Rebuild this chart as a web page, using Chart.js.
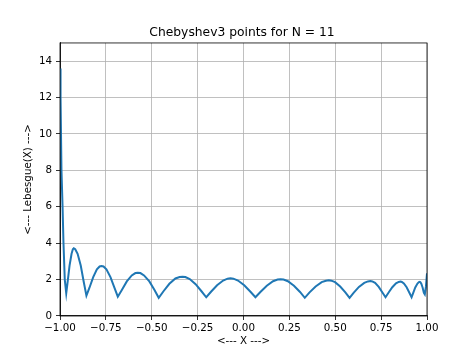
<!DOCTYPE html>
<html>
<head>
<meta charset="utf-8">
<script src="https://cdn.jsdelivr.net/npm/chart.js@4/dist/chart.umd.min.js"></script>
<style>
  html, body { margin: 0; padding: 0; background: #fff; }
  #wrap { width: 474px; height: 355px; }
</style>
</head>
<body>
<div id="wrap"><canvas id="c" width="474" height="355"></canvas></div>
<script>
const chartTitle = 'Chebyshev3 points for N = 11';
const xLabel = '<--- X --->';
const yLabel = '<--- Lebesgue(X) --->';

const xValues = [
  -1.000, -0.997, -0.992, -0.986, -0.981, -0.974, -0.966,
  -0.958, -0.948, -0.937, -0.930, -0.925, -0.917, -0.904, -0.887, -0.870, -0.856,
  -0.840, -0.819, -0.799, -0.784, -0.774, -0.763, -0.747, -0.725, -0.703, -0.685,
  -0.663, -0.636, -0.609, -0.589, -0.576, -0.562, -0.542, -0.513, -0.485, -0.462,
  -0.436, -0.404, -0.371, -0.348, -0.332, -0.317, -0.293, -0.261, -0.229, -0.203,
  -0.177, -0.144, -0.111, -0.087, -0.071, -0.055, -0.030, 0.004, 0.038, 0.065,
  0.092, 0.127, 0.161, 0.186, 0.202, 0.218, 0.242, 0.275, 0.308, 0.334,
  0.360, 0.393, 0.426, 0.449, 0.465, 0.479, 0.499, 0.527, 0.555, 0.578,
  0.601, 0.629, 0.658, 0.678, 0.692, 0.702, 0.717, 0.737, 0.758, 0.774,
  0.790, 0.811, 0.831, 0.846, 0.856, 0.863, 0.874, 0.889, 0.904, 0.916,
  0.925, 0.936, 0.948, 0.956, 0.961, 0.964, 0.969, 0.976, 0.983, 0.988,
  0.994, 1.000
];
const lebesgueValues = [
  13.6, 12.0, 8.0, 6.0, 4.0, 2.0, 1.25,
  1.90, 2.77, 3.42, 3.67, 3.72, 3.67, 3.42, 2.77, 1.84, 1.12,
  1.54, 2.14, 2.56, 2.72, 2.75, 2.72, 2.56, 2.14, 1.54, 1.06,
  1.43, 1.90, 2.23, 2.36, 2.38, 2.36, 2.23, 1.90, 1.43, 1.00,
  1.36, 1.77, 2.06, 2.14, 2.16, 2.14, 2.03, 1.75, 1.36, 1.03,
  1.33, 1.69, 1.95, 2.05, 2.07, 2.05, 1.95, 1.69, 1.33, 1.03,
  1.32, 1.66, 1.91, 2.00, 2.02, 2.00, 1.91, 1.66, 1.32, 1.00,
  1.30, 1.62, 1.86, 1.94, 1.96, 1.94, 1.86, 1.62, 1.30, 1.00,
  1.28, 1.60, 1.82, 1.90, 1.92, 1.90, 1.82, 1.60, 1.28, 1.03,
  1.28, 1.58, 1.79, 1.87, 1.89, 1.87, 1.79, 1.58, 1.28, 1.03,
  1.27, 1.57, 1.78, 1.86, 1.88, 1.86, 1.78, 1.57, 1.27, 1.19,
  1.60, 2.35
];
const xTicks = [-1.00, -0.75, -0.50, -0.25, 0.00, 0.25, 0.50, 0.75, 1.00];
const yTicks = [0, 2, 4, 6, 8, 10, 12, 14];

const FONT = 'DejaVu Sans';

const framePlugin = {
  id: 'frame',
  afterDraw(chart) {
    const a = chart.chartArea, ctx = chart.ctx;
    ctx.save();
    ctx.strokeStyle = '#000';
    ctx.lineWidth = 0.8;
    ctx.strokeRect(a.left, a.top, a.right - a.left, a.bottom - a.top);
    ctx.restore();
  }
};

new Chart(document.getElementById('c'), {
  type: 'scatter',
  data: {
    datasets: [{
      data: xValues.map((x, i) => ({ x: x, y: lebesgueValues[i] })),
      showLine: true,
      borderColor: '#1f77b4',
      backgroundColor: '#1f77b4',
      borderWidth: 2,
      pointRadius: 0,
      tension: 0
    }]
  },
  options: {
    responsive: false,
    devicePixelRatio: 1,
    animation: false,
    layout: { padding: { left: 10, right: 0, top: 0, bottom: 0 } },
    plugins: {
      legend: { display: false },
      tooltip: { enabled: false },
      title: {
        display: true,
        text: chartTitle,
        color: '#000',
        font: { family: FONT, size: 12.3, weight: 'normal' },
        padding: { top: 25.2, bottom: 3.0 }
      }
    },
    scales: {
      x: {
        type: 'linear',
        min: -1, max: 1,
        afterBuildTicks: s => { s.ticks = xTicks.map(v => ({ value: v })); },
        afterFit: s => { s.height = 39; },
        ticks: {
          color: '#000',
          font: { family: FONT, size: 10.3 },
          padding: 2,
          maxRotation: 0,
          callback: v => v.toFixed(2).replace('-', '\u2212')
        },
        grid: { color: '#b0b0b0', lineWidth: 0.8, tickLength: 4, tickColor: '#000', tickWidth: 0.8 },
        border: { color: '#000', width: 0.8 },
        title: {
          display: true, text: xLabel, color: '#000',
          font: { family: FONT, size: 10.3 },
          padding: { top: 0, bottom: 7.8 }
        }
      },
      y: {
        type: 'linear',
        position: 'left',
        min: 0, max: 15,
        afterBuildTicks: s => { s.ticks = yTicks.map(v => ({ value: v })); },
        afterFit: s => { s.width = 50; },
        ticks: {
          color: '#000',
          font: { family: FONT, size: 10.3 },
          padding: 4,
          callback: v => String(v)
        },
        grid: { color: '#b0b0b0', lineWidth: 0.8, tickLength: 4, tickColor: '#000', tickWidth: 0.8 },
        border: { color: '#000', width: 0.8 },
        title: {
          display: true, text: yLabel, color: '#000',
          font: { family: FONT, size: 10.3 },
          padding: { top: 11.8, bottom: 0 }
        }
      },
      yRight: {
        type: 'linear',
        position: 'right',
        min: 0, max: 15,
        afterFit: s => { s.width = 47; },
        ticks: { display: false },
        grid: { display: false, drawTicks: false },
        border: { display: false }
      }
    }
  },
  plugins: [framePlugin]
});
</script>
</body>
</html>
